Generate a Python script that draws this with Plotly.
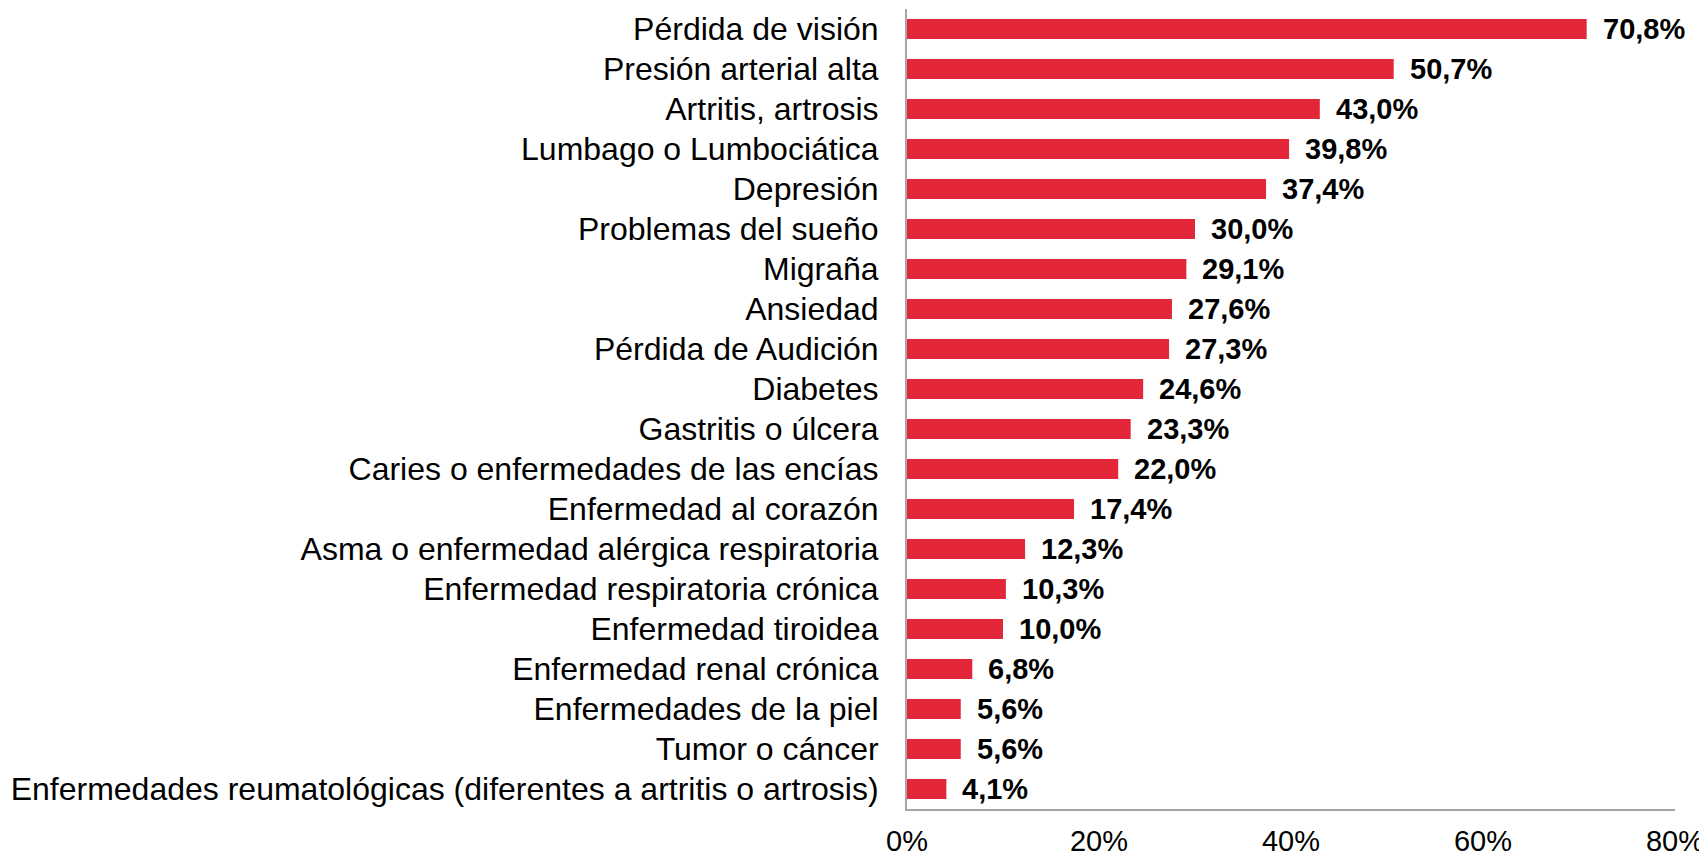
import plotly.graph_objects as go

categories = [
    "Pérdida de visión",
    "Presión arterial alta",
    "Artritis, artrosis",
    "Lumbago o Lumbociática",
    "Depresión",
    "Problemas del sueño",
    "Migraña",
    "Ansiedad",
    "Pérdida de Audición",
    "Diabetes",
    "Gastritis o úlcera",
    "Caries o enfermedades de las encías",
    "Enfermedad al corazón",
    "Asma o enfermedad alérgica respiratoria",
    "Enfermedad respiratoria crónica",
    "Enfermedad tiroidea",
    "Enfermedad renal crónica",
    "Enfermedades de la piel",
    "Tumor o cáncer",
    "Enfermedades reumatológicas (diferentes a artritis o artrosis)",
]
values = [70.8, 50.7, 43.0, 39.8, 37.4, 30.0, 29.1, 27.6, 27.3, 24.6,
          23.3, 22.0, 17.4, 12.3, 10.3, 10.0, 6.8, 5.6, 5.6, 4.1]
tick_vals = [0, 20, 40, 60, 80]
tick_text = ["0%", "20%", "40%", "60%", "80%"]

labels = [f"{v:.1f}%".replace(".", ",") for v in values]

FONT = "Liberation Sans, Arial, sans-serif"

fig = go.Figure(go.Bar(
    x=values,
    y=categories,
    orientation="h",
    marker=dict(color="rgb(227,38,56)", line=dict(width=0)),
    width=0.5,
    hoverinfo="skip",
    cliponaxis=False,
))

for v, c, t in zip(values, categories, labels):
    fig.add_annotation(
        x=v, y=c, text=f"<b>{t}</b>", showarrow=False,
        xanchor="left", yanchor="middle", xshift=14,
        font=dict(family=FONT, size=29, color="black"),
    )

# page has an 8px body margin, so the figure is sized to fit the window
fig.update_layout(
    width=1699, height=848,
    margin=dict(l=899, r=32, t=1, b=47, autoexpand=False),
    paper_bgcolor="white", plot_bgcolor="white",
    showlegend=False,
    font=dict(family=FONT, color="black"),
    bargap=0.5,
)
fig.update_xaxes(
    range=[0, 80], tickvals=tick_vals, ticktext=tick_text,
    showgrid=False, zeroline=False, automargin=False,
    showline=True, linecolor="#A6A6A6", linewidth=2,
    tickfont=dict(family=FONT, size=29, color="black"),
    ticks="", ticklabelstandoff=5,
)
fig.update_yaxes(
    autorange="reversed", showgrid=False, zeroline=False, automargin=False,
    showline=True, linecolor="#A6A6A6", linewidth=2,
    tickfont=dict(family=FONT, size=32, color="black"),
    ticks="", ticklabelstandoff=20,
)

fig.write_html("out.html")
